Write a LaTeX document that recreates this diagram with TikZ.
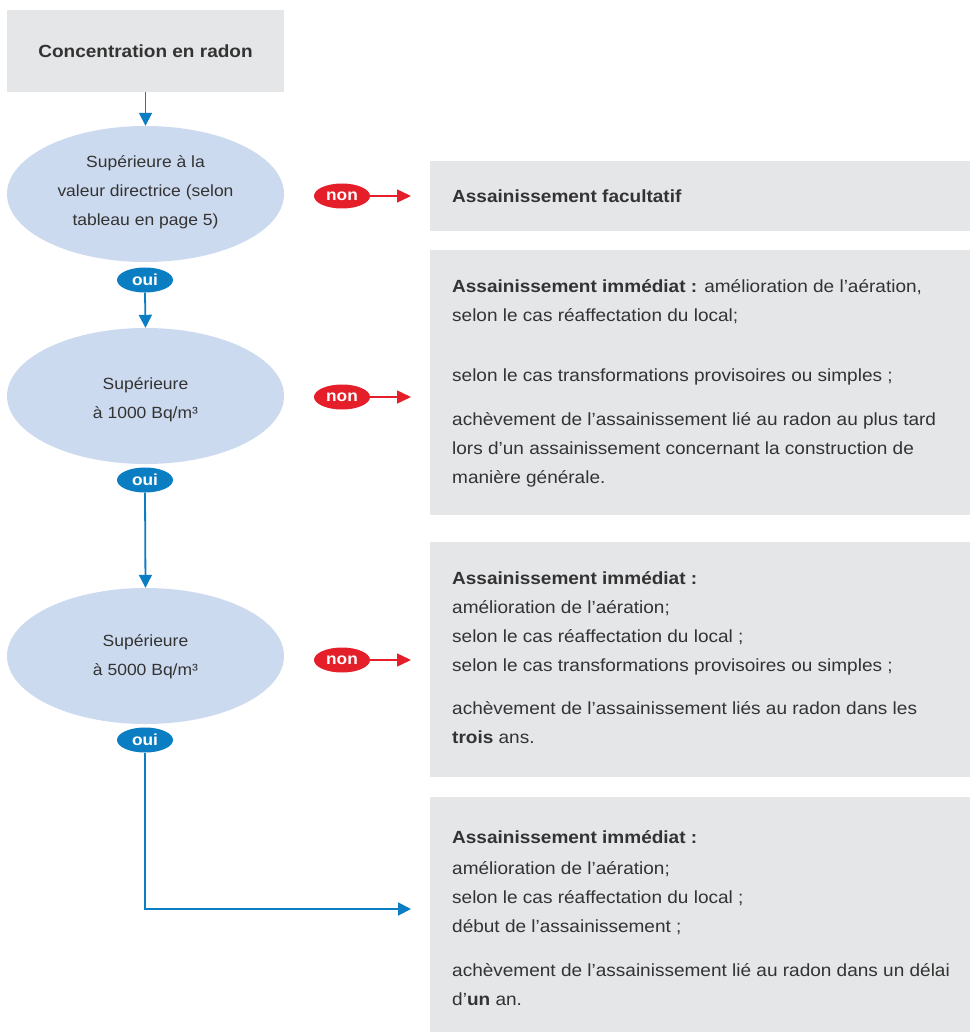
\documentclass[tikz,border=0pt]{standalone}
\usepackage{fontspec}
\setmainfont[FakeStretch=1.08]{Liberation Sans}
\usetikzlibrary{arrows.meta,shapes.geometric}
\definecolor{boxgray}{HTML}{E5E6E8}
\definecolor{ellblue}{HTML}{CCDAEF}
\definecolor{arrblue}{HTML}{0A7DC3}
\definecolor{nonred}{HTML}{E51F2A}
\definecolor{txt}{HTML}{333333}
\begin{document}
\begin{tikzpicture}[x=1pt,y=-1pt,
  font=\fontsize{17.6}{29}\selectfont, text=txt,
  ellbox/.style={ellipse, fill=ellblue, minimum width=277pt, minimum height=136pt, inner sep=0pt},
  elltext/.style={inner sep=0pt, align=center, font=\fontsize{16.2}{29}\selectfont},
  topbox/.style={rectangle, fill=boxgray, inner sep=0pt},
  graybox/.style={rectangle, fill=boxgray, inner sep=0pt, anchor=north west, minimum width=540pt},
  pill/.style={ellipse, minimum width=56pt, minimum height=25pt, inner sep=0pt, text=white, font=\fontsize{16}{18}\selectfont\bfseries},
  ouipill/.style={pill, fill=arrblue},
  nonpill/.style={pill, fill=nonred},
  bluearrow/.style={draw=arrblue, line width=1.8pt, -{Triangle[length=13pt,width=13pt]}},
  redarrow/.style={draw=nonred, line width=1.5pt, -{Triangle[length=14pt,width=13pt]}},
  body/.style={anchor=base west, align=left, inner sep=0pt},
]
\useasboundingbox (0,0) rectangle (970,1032);

% left column
\node[topbox, minimum width=277pt, minimum height=82pt, font=\fontsize{17.6}{29}\selectfont\bfseries] (top) at (145.5,51) {Concentration en radon};
\node[ellbox] (e1) at (145.5,194) {};
\node[ellbox] (e2) at (145.5,396) {};
\node[ellbox] (e3) at (145.5,656) {};
\node[elltext] (e1t) at (145.5,192.5) {Supérieure à la\\valeur directrice (selon\\tableau en page 5)};
\node[elltext] (e2t) at (145.5,399.5) {Supérieure\\à 1000 Bq/m³};
\node[elltext] (e3t) at (145.5,656.5) {Supérieure\\à 5000 Bq/m³};
\node[ouipill] (o1) at (145,280) {oui};
\node[ouipill] (o2) at (145,480) {oui};
\node[ouipill] (o3) at (145,740) {oui};

\draw[bluearrow] (top.south) -- (e1.north);
\draw[bluearrow] (o1.south) -- (e2.north);
\draw[bluearrow] (o2.south) -- (e3.north);
\coordinate (c4) at (411,909);
\draw[bluearrow] (o3.south) |- (c4);

% non pills
\node[nonpill] (n1) at (342,196) {non};
\node[nonpill] (n2) at (342,397) {non};
\node[nonpill] (n3) at (342,660) {non};
\coordinate (c1) at (411,196);
\coordinate (c2) at (411,397);
\coordinate (c3) at (411,660);
\draw[redarrow] (n1.east) -- (c1);
\draw[redarrow] (n2.east) -- (c2);
\draw[redarrow] (n3.east) -- (c3);

% right boxes
\node[graybox, minimum height=70pt] (b1) at (430,161) {};
\node[graybox, minimum height=265pt] (b2) at (430,250) {};
\node[graybox, minimum height=235pt] (b3) at (430,542) {};
\node[graybox, minimum height=235pt] (b4) at (430,797) {};

\node[body] (t1) at (452,203) {\textbf{Assainissement facultatif}};
\node[body] (t2) at (452,483) {\textbf{Assainissement immédiat :} amélioration de l’aération,\\
selon le cas réaffectation du local;\\[31pt]
selon le cas transformations provisoires ou simples ;\\[15pt]
achèvement de l’assainissement lié au radon au plus tard\\
lors d’un assainissement concernant la construction de\\
manière générale.};
\node[body] (t3) at (452,743) {\textbf{Assainissement immédiat :}\\
amélioration de l’aération;\\
selon le cas réaffectation du local ;\\
selon le cas transformations provisoires ou simples ;\\[14pt]
achèvement de l’assainissement liés au radon dans les\\
\textbf{trois} ans.};
\node[body] (t4) at (452,1005) {\textbf{Assainissement immédiat :}\\[2pt]
amélioration de l’aération;\\
selon le cas réaffectation du local ;\\
début de l’assainissement ;\\[15pt]
achèvement de l’assainissement lié au radon dans un délai\\
d’\textbf{un} an.};
\end{tikzpicture}
\end{document}
